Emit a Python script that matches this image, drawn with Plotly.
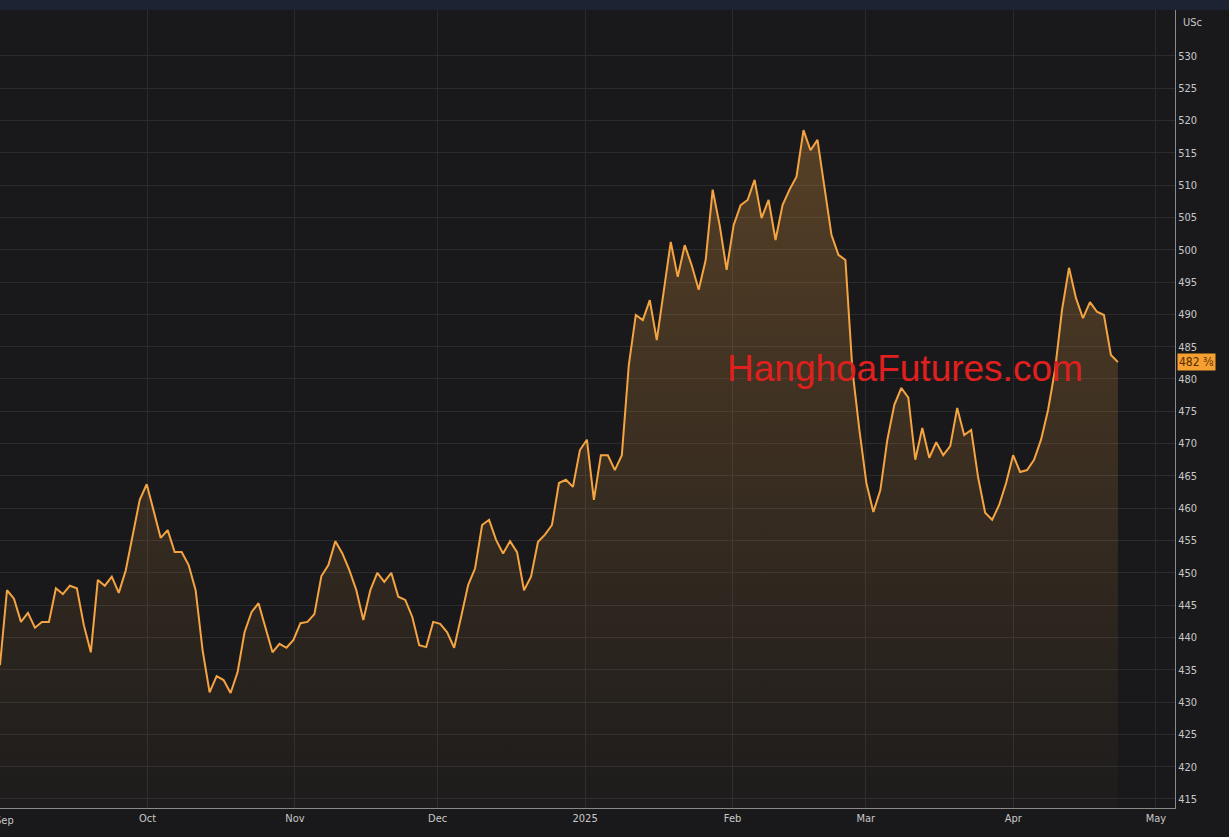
import plotly.graph_objects as go
import pandas as pd

# price in US cents, traced roughly one point per trading day
prices = [
    435.7, 447.3, 446.0, 442.4, 443.8, 441.5, 442.4, 442.4, 447.6, 446.7,
    448.0, 447.6, 441.9, 437.7, 448.9, 448.0, 449.4, 446.9, 450.4, 455.9,
    461.3, 463.7, 459.7, 455.4, 456.6, 453.2, 453.2, 451.2, 447.3, 438.0,
    431.5, 434.0, 433.4, 431.4, 434.6, 440.8, 443.9, 445.3, 441.5, 437.7,
    439.0, 438.4, 439.6, 442.2, 442.4, 443.6, 449.5, 451.2, 454.9, 453.0,
    450.4, 447.3, 442.7, 447.3, 450.0, 448.6, 450.0, 446.3, 445.8, 443.2,
    438.8, 438.5, 442.4, 442.1, 440.8, 438.4, 443.2, 448.1, 450.7, 457.4,
    458.2, 455.1, 453.0, 454.9, 453.2, 447.3, 449.4, 454.8, 455.9, 457.4,
    463.9, 464.4, 463.3, 469.0, 470.6, 461.3, 468.2, 468.2, 465.9, 468.2,
    482.2, 489.9, 489.1, 492.2, 486.0, 493.8, 501.2, 495.8, 500.7, 497.6,
    493.8, 498.4, 509.3, 503.8, 496.9, 503.8, 506.9, 507.7, 510.8, 504.9,
    507.7, 501.5, 506.9, 509.3, 511.3, 518.5, 515.4, 517.0, 510.0, 502.3,
    499.2, 498.4, 481.4, 472.1, 463.9, 459.4, 462.8, 470.6, 476.0, 478.6,
    477.1, 467.5, 472.4, 467.8, 470.2, 468.2, 469.6, 475.5, 471.3, 472.1,
    464.7, 459.3, 458.2, 460.5, 463.9, 468.2, 465.6, 465.9, 467.5, 470.6,
    475.2, 481.4, 490.7, 497.2, 492.5, 489.4, 491.9, 490.4, 489.9, 483.7,
    482.6,
]
start_date = "2024-08-31"
end_date = "2025-04-23"
dates = pd.date_range(start_date, end_date, periods=len(prices))

month_ticks = ["2024-09-01", "2024-10-01", "2024-11-01", "2024-12-01",
               "2025-01-01", "2025-02-01", "2025-03-01", "2025-04-01", "2025-05-01"]
month_labels = ["Sep", "Oct", "Nov", "Dec", "2025", "Feb", "Mar", "Apr", "May"]
y_ticks = list(range(415, 535, 5))
last_label = "482 ⅜"

axis_font = dict(color="#c8c8c8", size=11, family="DejaVu Sans Condensed")

fig = go.Figure()
fig.add_trace(go.Scatter(
    x=dates, y=prices, mode="lines",
    line=dict(color="#f5a442", width=2),
    fill="tozeroy",
    fillgradient=dict(type="vertical", start=414, stop=520, colorscale=[
        [0, "rgba(245,164,66,0.02)"], [1, "rgba(245,164,66,0.28)"]]),
    hoverinfo="skip",
))

fig.add_annotation(x=1.0, xref="paper", xanchor="left", y=prices[-1], yref="y",
                   text=last_label, showarrow=False, bgcolor="#f5a030",
                   font=dict(color="#5a2a00", size=12, family="DejaVu Sans Condensed"),
                   xshift=2)
fig.add_annotation(x=1.0, xref="paper", xanchor="left", y=1.0, yref="paper",
                   yanchor="top", text="USc", showarrow=False, xshift=6, yshift=-4,
                   font=axis_font)
fig.add_annotation(x=month_ticks[0], xref="x", y=0, yref="paper", yanchor="top",
                   text="Sep", showarrow=False, yshift=-4, font=axis_font)
fig.add_annotation(x=905 / 1175, xref="paper", xanchor="center", y=481.6, yref="y",
                   text="HanghoaFutures.com", showarrow=False,
                   font=dict(color="#e0201e", size=37, family="Liberation Sans"))

fig.update_layout(
    width=1229, height=837,
    margin=dict(l=0, r=54, t=10, b=29, autoexpand=False),
    paper_bgcolor="#19191b", plot_bgcolor="#19191b",
    showlegend=False,
    shapes=[dict(type="rect", xref="paper", yref="paper", x0=0, x1=1.1, y0=1.0, y1=1.02,
                 fillcolor="#1e2333", line_width=0)],
    xaxis=dict(
        range=["2024-08-31", "2025-05-05"], automargin=False,
        tickvals=month_ticks[1:], ticktext=month_labels[1:],
        showgrid=True, gridcolor="#2b2b2e", gridwidth=1,
        showline=True, linecolor="#8a8a8a", linewidth=1,
        tickfont=axis_font, ticks="", zeroline=False,
    ),
    yaxis=dict(
        side="right", range=[413.6, 537.1], automargin=False,
        tickvals=y_ticks,
        showgrid=True, gridcolor="#2b2b2e", gridwidth=1,
        showline=True, linecolor="#8a8a8a", linewidth=1,
        tickfont=axis_font, ticks="", zeroline=False,
    ),
)

fig.write_html("out.html", config={"displayModeBar": False},
               post_script="document.body.style.margin='0';document.body.style.background='#19191b';")
